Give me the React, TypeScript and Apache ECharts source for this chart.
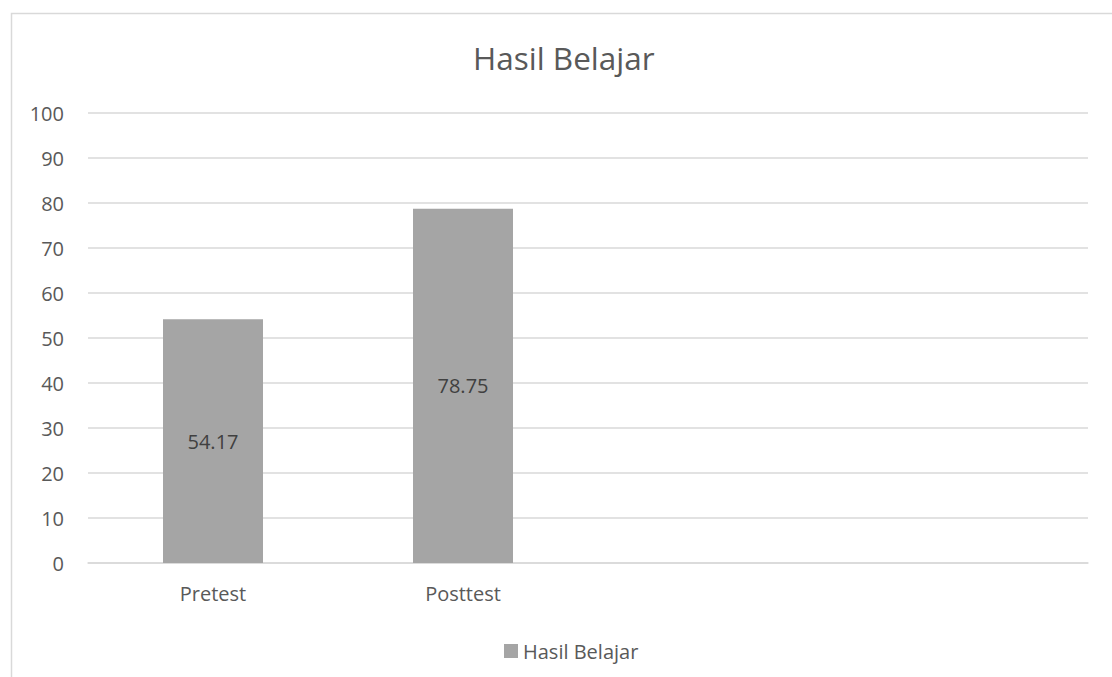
import React, { useEffect, useRef } from "react";
import * as echarts from "echarts";

const categories = ["Pretest", "Posttest", "", ""];
const values = [54.17, 78.75, null, null];
const seriesName = "Hasil Belajar";
const titleText = "Hasil Belajar";

export default function App() {
  const ref = useRef<HTMLDivElement>(null);
  useEffect(() => {
    document.body.style.margin = "0";
    const chart = echarts.init(ref.current!, null, { renderer: "svg" });
    const font = "Open Sans";
    chart.setOption({
      animation: false,
      backgroundColor: "#ffffff",
      graphic: [
        {
          type: "rect",
          shape: { x: 11.5, y: 13.5, width: 1120, height: 700 },
          style: { fill: "none", stroke: "#d9d9d9", lineWidth: 1.5 },
          silent: true,
        },
      ],
      title: {
        text: titleText,
        left: 468,
        top: 36,
        textStyle: { fontFamily: font, fontSize: 31.5, fontWeight: "normal", color: "#595959" },
      },
      legend: {
        data: [seriesName],
        left: 499,
        top: 636,
        icon: "rect",
        itemWidth: 14,
        itemHeight: 14,
        textStyle: { fontFamily: font, fontSize: 20, color: "#595959" },
      },
      grid: { left: 88, right: 24, top: 113, bottom: 114, containLabel: false },
      xAxis: {
        type: "category",
        data: categories,
        axisLine: { show: true, lineStyle: { color: "#d9d9d9", width: 1.5 } },
        axisTick: { show: false },
        axisLabel: { fontFamily: font, fontSize: 20, color: "#595959", margin: 20, interval: 0 },
      },
      yAxis: {
        type: "value",
        min: 0,
        max: 100,
        interval: 10,
        axisLine: { show: false },
        axisTick: { show: false },
        splitLine: { lineStyle: { color: "#d9d9d9", width: 1.5 } },
        axisLabel: { fontFamily: font, fontSize: 20, color: "#595959", margin: 24 },
      },
      series: [
        {
          name: seriesName,
          type: "bar",
          data: values,
          barWidth: 100,
          itemStyle: { color: "#a5a5a5" },
          label: {
            show: true,
            position: "inside",
            fontFamily: font,
            fontSize: 20,
            color: "#404040",
          },
        },
      ],
    });
    return () => chart.dispose();
  }, []);
  return <div ref={ref} style={{ width: 1112, height: 677 }} />;
}
